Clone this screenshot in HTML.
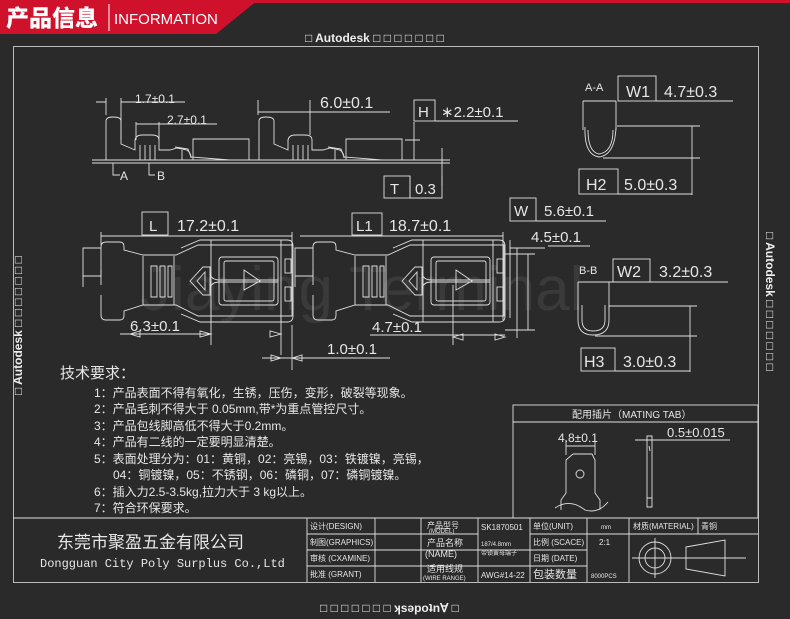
<!DOCTYPE html>
<html><head><meta charset="utf-8"><style>
html,body{margin:0;padding:0;background:#2a2a2a;}
svg{display:block}
text{font-family:"Liberation Sans","Noto Sans CJK SC",sans-serif;fill:#e6e6e6}
.d{font-family:"DejaVu Sans","Liberation Sans",sans-serif;fill:#dcdcdc;font-weight:200}
.s{font-family:"Liberation Serif","Noto Serif CJK SC",serif;fill:#e6e6e6}
</style></head><body>
<svg width="790" height="619" viewBox="0 0 790 619" xmlns="http://www.w3.org/2000/svg">
<rect width="790" height="619" fill="#2a2a2a"/>
<!-- header -->
<rect x="0" y="0" width="790" height="3" fill="#d0112b"/>
<polygon points="0,0 258,0 216,34 0,34" fill="#d0112b"/>
<text x="6" y="26" style="font-family:'Noto Sans CJK SC',sans-serif;font-weight:900;font-size:23px;fill:#fff">产品信息</text>
<line x1="109" y1="4" x2="109" y2="31" stroke="#fff" stroke-width="1"/>
<text x="114" y="24" style="font-size:15px;fill:#fff">INFORMATION</text>
<text x="305" y="42" style="font-size:12px;font-weight:bold;fill:#eee">□ Autodesk □ □ □ □ □ □ □</text>
<text transform="translate(318,604) rotate(180) translate(-155,0)" x="0" y="0" style="font-size:12px;font-weight:bold;fill:#eee"></text>
<text x="320" y="612" style="font-size:12px;font-weight:bold;fill:#eee">□ □ □ □ □ □ □ <tspan>ʞsǝpoʇnⱯ</tspan> □</text>
<text transform="translate(22,395) rotate(-90)" style="font-size:12px;font-weight:bold;fill:#eee">□ Autodesk □ □ □ □ □ □ □</text>
<text transform="translate(766,232) rotate(90)" style="font-size:12px;font-weight:bold;fill:#eee">□ Autodesk □ □ □ □ □ □ □</text>
<!-- frame -->
<rect x="13.5" y="46.5" width="745" height="536" fill="none" stroke="#bbb" stroke-width="1"/>
<!-- watermark -->
<text x="140" y="310" style="font-size:62px;fill:#3a3a3a">Jiaying Terminal</text>

<g stroke="#e0e0e0" stroke-width="0.9" fill="none">
<!-- side view -->
<line x1="92" y1="160" x2="450" y2="160"/>
<line x1="92" y1="163" x2="450" y2="163"/>
<g id="sv">
<path d="M106,160 V121 Q106,117 113,117 Q121,117 121,121 V144 L135,150 V140 Q136,135 142,135 H152 Q159,135 159,140 V150 H170 L177,148 L187,150 Q191,153 191,158"/>
<path d="M140,160 V145 M145,160 V145 M150,160 V145 M155,160 V145"/>
<path d="M175,147 L188,149 L191,157 L230,160"/>
<path d="M193,160 V139 H249 V160"/>
<line x1="182" y1="160" x2="182" y2="150"/>
</g>
<use href="#sv" transform="translate(153,0)"/>
<!-- side dims -->
<path d="M106,115 V98 M121,140 V98 M96,102 H106 M121,102 H185 M136,140 V122 M159,140 V122 M136,124 H217"/>
<path d="M258,115 V100 M310,135 V100 M258,112 H390"/>
<path d="M113,163 V175 H120 M149,163 V175 H155"/>
<path d="M405,140 H420 M414,122 V160 M405,160 H420 M442,148 V185 M435,160 H450"/>
<rect x="414" y="100" width="21" height="21"/><path d="M435,121 H518"/>
<rect x="384" y="176" width="26" height="22"/><path d="M410,176 V198 H442 V176"/>
<!-- top view terminals -->
<g id="tv">
<path d="M83,248 V276 H101 V248 Z M101,250 V247 Q101,242 106,242 H120 Q124,242 124,247 V250 L143,255 H176 L198,245 H292 V316 H198 L176,305 H143 L124,311 V315 Q124,320 120,320 H106 Q101,320 101,315 V312"/>
<path d="M101,270 V285 M101,295 V312 M83,276 V287"/>
<path d="M143,256 V305 M174,256 V305 M151,266 V297 H157 V266 Z M160,266 V297 H165 V266 Z M168,266 V297 H172 V266 Z"/>
<path d="M181,248 L200,240 H287 Q293,240 293,246 V316 Q293,322 287,322 H200 L181,314"/>
<path d="M211,240 V322 M281,240 V322"/>
<rect x="219" y="257" width="59" height="48" rx="3"/>
<rect x="224" y="261" width="50" height="40" rx="2"/>
<path d="M190,281 L203,267 H210 V295 H203 Z M197,281 L205,272 V290 Z"/>
<path d="M210,272 Q210,280 220,280 H278 M210,290 Q210,282 220,282 H278"/>
<path d="M244,270 L260,281 L244,290 Z"/>
<rect x="285" y="259" width="6" height="14"/><rect x="285" y="287" width="6" height="14"/>
</g>
<use href="#tv" transform="translate(212,0)"/>
<!-- top dims -->
<path d="M101,236 H292 M101,232 V245 M292,232 V245 M300,236 H503 M503,232 V320 M510,240 V318"/>
<rect x="142" y="212" width="26" height="23"/><rect x="352" y="213" width="30" height="22"/>
<rect x="510" y="198" width="26" height="23"/><path d="M536,221 H606 M548,246 H590 M517,248 V338 M528,254 V330 M505,254 H535 M505,330 H535 M510,248 H545"/>
<path d="M120,334 H211 M211,300 V345 M281,300 V355 M130,334 L140,331 V337 Z M211,334 L200,331 V337 Z M281,334 L270,331 V337 Z"/>
<path d="M370,335 H505 M453,285 V345 M453,337 L463,334 V340 Z M505,337 L495,334 V340 Z"/>
<path d="M262,358 H390 M292,325 V370 M281,358 L271,355 V361 Z M292,358 L302,355 V361 Z"/>
<!-- A-A, B-B -->
<rect x="618" y="76" width="38" height="25"/><path d="M656,101 H733 M583,101 V130 M616,101 V130 M583,101 H616"/>
<path d="M585,127 Q584,155 599,157 Q615,155 616,127 M588,130 Q588,152 599,154 Q613,152 613,130"/>
<path d="M617,126 H700 M603,158 H700 M692,126 V195 M618,194 H692"/>
<rect x="579" y="169" width="39" height="25"/>
<rect x="613" y="259" width="37" height="23"/><path d="M650,282 H728 M578,282 H650 M578,282 V310 M609,282 V310"/>
<path d="M578,305 V320 Q578,335 593,335 Q609,335 609,320 V305 M582,305 V320 Q582,331 593,331 Q605,331 605,320 V305"/>
<path d="M609,306 H697 M595,336 H697 M690,306 V372 M615,371 H690"/>
<rect x="581" y="348" width="34" height="23"/>
<!-- mating tab -->
<rect x="513" y="405" width="245" height="113"/><path d="M513,422 H758"/>
<path d="M566,446 H595 M566,440 V455 M595,440 V455 M573,454 H592 L595,460 V493 L600,500 V510 M573,454 L566,460 V493 L561,500 V510 M555,508 Q570,498 585,510 Q598,514 608,502"/>
<circle cx="580" cy="474" r="4"/>
<path d="M647,436 V507 H652 V436 Z M647,440 H652 M647,498 H652 M635,440 H647 M652,440 H730 M649,446 L650,451"/>
<!-- title block -->
<path d="M13,518 H758 M307,534 H478 M530,534 H758 M307,550 H587 M421,550 H478 M307,566 H587 M307,518 V582 M375,518 V582 M421,518 V582 M478,518 V582 M530,518 V582 M587,518 V582 M629,518 V582 M698,518 V534 M629,534 H758"/>
<circle cx="655" cy="558" r="16"/><circle cx="655" cy="558" r="10"/><path d="M632,558 H746 M655,538 V578 M686,547 L725,540 V576 L686,569 Z"/>
</g>
<!-- dim text -->
<g class="d">
<text x="135" y="103" style="font-size:12px">1.7±0.1</text>
<text x="167" y="124" style="font-size:12px">2.7±0.1</text>
<text x="320" y="108" style="font-size:16px">6.0±0.1</text>
<text x="120" y="180" style="font-size:12px">A</text><text x="157" y="180" style="font-size:12px">B</text>
<text x="418" y="117" style="font-size:15px">H</text><text x="441" y="117" style="font-size:15px">∗2.2±0.1</text>
<text x="390" y="194" style="font-size:15px">T</text><text x="415" y="194" style="font-size:15px">0.3</text>
<text x="149" y="231" style="font-size:15px">L</text><text x="177" y="231" style="font-size:16px">17.2±0.1</text>
<text x="356" y="231" style="font-size:15px">L1</text><text x="389" y="231" style="font-size:16px">18.7±0.1</text>
<text x="514" y="216" style="font-size:15px">W</text><text x="544" y="216" style="font-size:15px">5.6±0.1</text>
<text x="531" y="242" style="font-size:15px">4.5±0.1</text>
<text x="130" y="331" style="font-size:15px">6.3±0.1</text>
<text x="372" y="332" style="font-size:15px">4.7±0.1</text>
<text x="327" y="354" style="font-size:15px">1.0±0.1</text>
<text x="585" y="91" style="font-size:11px">A-A</text>
<text x="626" y="97" style="font-size:16px">W1</text><text x="664" y="97" style="font-size:16px">4.7±0.3</text>
<text x="586" y="190" style="font-size:16px">H2</text><text x="624" y="190" style="font-size:16px">5.0±0.3</text>
<text x="579" y="274" style="font-size:11px">B-B</text>
<text x="617" y="277" style="font-size:16px">W2</text><text x="659" y="277" style="font-size:16px">3.2±0.3</text>
<text x="584" y="367" style="font-size:16px">H3</text><text x="623" y="367" style="font-size:16px">3.0±0.3</text>
<text x="558" y="442" style="font-size:12px">4.8±0.1</text>
<text x="667" y="437" style="font-size:13px">0.5±0.015</text>
</g>
<!-- notes -->
<g class="s">
<text x="60" y="378" style="font-size:15px">技术要求：</text>
<g style="font-size:12px">
<text x="94" y="397">1：产品表面不得有氧化，生锈，压伤，变形，破裂等现象。</text>
<text x="94" y="413">2：产品毛刺不得大于 0.05mm,带*为重点管控尺寸。</text>
<text x="94" y="430">3：产品包线脚高低不得大于0.2mm。</text>
<text x="94" y="446">4：产品有二线的一定要明显清楚。</text>
<text x="94" y="463">5：表面处理分为：01：黄铜，02：亮锡，03：铁镀镍，亮锡，</text>
<text x="113" y="479">04：铜镀镍，05：不锈钢，06：磷铜，07：磷铜镀镍。</text>
<text x="94" y="496">6：插入力2.5-3.5kg,拉力大于 3 kg以上。</text>
<text x="94" y="512">7：符合环保要求。</text>
</g>
<text x="572" y="418" style="font-size:10px">配用插片（MATING  TAB）</text>
<text x="57" y="548" style="font-size:17px">东莞市聚盈五金有限公司</text>
<text x="40" y="567" style="font-size:12px;font-family:'Liberation Mono',monospace">Dongguan City Poly Surplus Co.,Ltd</text>
<g style="font-size:8px">
<text x="310" y="529">设计(DESIGN)</text><text x="310" y="545">制图(GRAPHICS)</text>
<text x="310" y="561">审核 (CXAMINE)</text><text x="310" y="577">批准 (GRANT)</text>
<text x="427" y="528">产品型号</text><text x="429" y="533" style="font-size:6px">(MODEL)</text>
<text x="427" y="546" style="font-size:9px">产品名称</text><text x="425" y="557" style="font-size:9px">(NAME)</text>
<text x="427" y="572" style="font-size:9px">适用线规</text><text x="423" y="580" style="font-size:6px">(WIRE RANGE)</text>
<text x="481" y="530">SK1870501</text>
<text x="481" y="546" style="font-size:6px">187/4.8mm</text><text x="481" y="555" style="font-size:6px">带锁黄母端子</text>
<text x="481" y="578">AWG#14-22</text>
<text x="533" y="529">单位(UNIT)</text><text x="533" y="545">比例 (SCACE)</text>
<text x="533" y="561">日期 (DATE)</text><text x="533" y="578" style="font-size:11px">包装数量</text>
<text x="601" y="529" style="font-size:6px">mm</text><text x="599" y="545">2:1</text>
<text x="591" y="578" style="font-size:6px">8000PCS</text>
<text x="633" y="529">材质(MATERIAL)</text><text x="701" y="529">青铜</text>
</g>
</g>
</svg>
</body></html>
